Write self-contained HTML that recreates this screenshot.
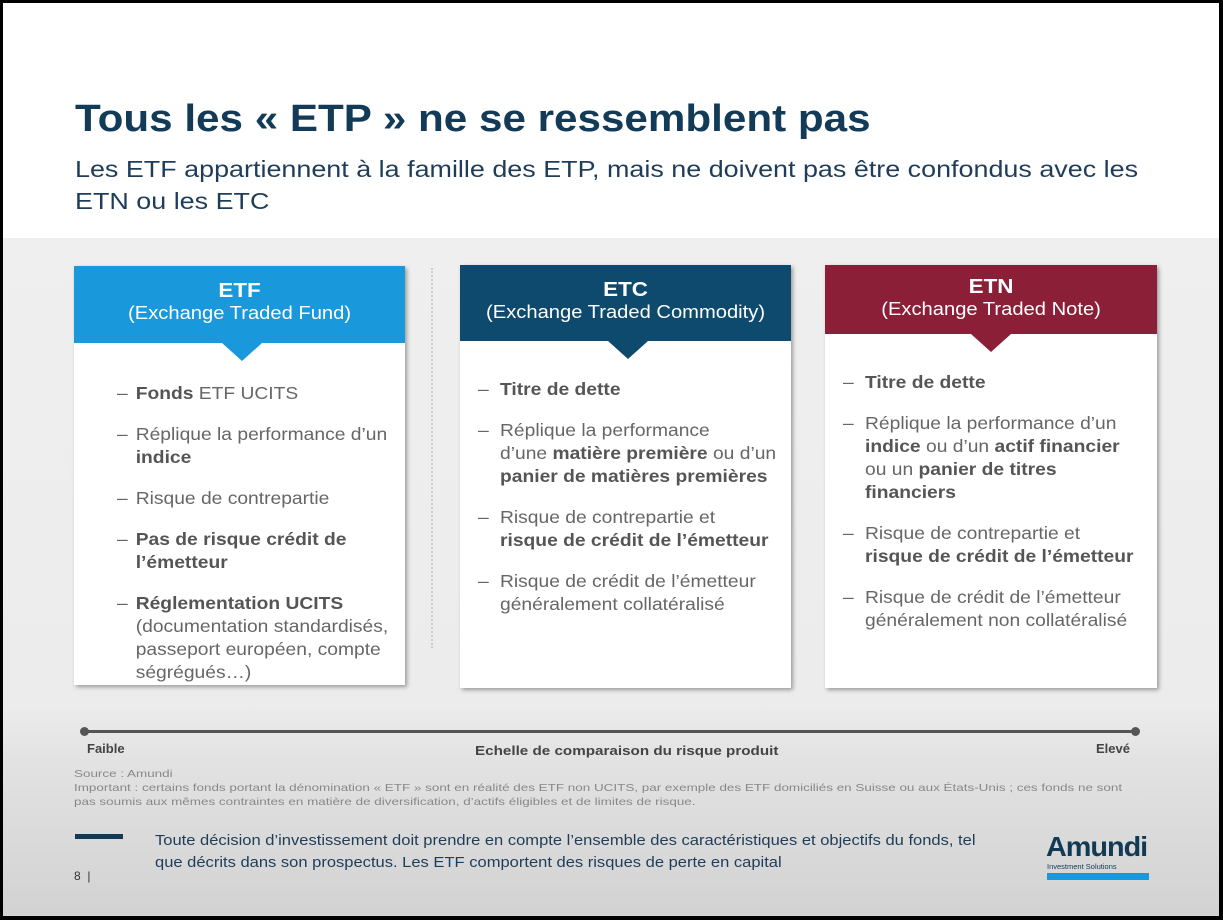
<!DOCTYPE html>
<html><head><meta charset="utf-8"><style>
*{margin:0;padding:0;box-sizing:border-box}
body{width:1223px;height:920px;background:#000;font-family:"Liberation Sans",sans-serif;overflow:hidden;position:relative}
#slide{position:absolute;left:3px;top:3px;width:1216px;height:913px;background:linear-gradient(#fff 0,#fff 235px,#efefef 235px,#ececec 700px,#e2e2e2 760px,#d2d2d2 913px)}
.a{position:absolute;transform-origin:left top}
h1{position:absolute;left:72px;top:95px;font-size:38px;color:#133a56;font-weight:bold;transform:scaleX(1.11);transform-origin:left top;white-space:nowrap}
.sub{left:72px;top:150px;font-size:23px;color:#1f3d58;line-height:32px;white-space:nowrap;transform:scaleX(1.17)}
.card{position:absolute;background:#fff;box-shadow:2px 2px 4px rgba(0,0,0,.35)}
.hd{position:absolute;left:0;top:0;width:100%;color:#fff;text-align:center;font-size:18px;line-height:22px}
.hd span{display:inline-block;transform:scaleX(1.12)}
.hd b{font-size:20px;display:block}
.tri{position:absolute;width:0;height:0;border-left:20px solid transparent;border-right:20px solid transparent}
ul{position:absolute;list-style:none;color:#666;font-size:17.5px;line-height:23px;white-space:nowrap;transform:scaleX(1.1);transform-origin:left top}
li{margin-bottom:18px;padding-left:20px;position:relative}
li:before{content:"–";position:absolute;left:0}
li b{color:#555}
</style></head><body>
<div id="slide">
<h1>Tous les « ETP » ne se ressemblent pas</h1>
<div class="a sub">Les ETF appartiennent à la famille des ETP, mais ne doivent pas être confondus avec les<br>ETN ou les ETC</div>
<div class="a" style="left:428px;top:265px;height:380px;border-left:2px dotted #ccc"></div>

<div class="card" style="left:71px;top:263px;width:331px;height:419px">
<div class="hd" style="background:#1a98dc;height:77px;padding-top:14px"><span><b>ETF</b>(Exchange Traded Fund)</span></div>
<div class="tri" style="left:148px;top:77px;border-top:18px solid #1a98dc"></div>
<ul style="left:43px;top:116px">
<li style="padding-left:17px"><b>Fonds</b> ETF UCITS</li>
<li style="padding-left:17px">Réplique la performance d’un<br><b>indice</b></li>
<li style="padding-left:17px">Risque de contrepartie</li>
<li style="padding-left:17px"><b>Pas de risque crédit de<br>l’émetteur</b></li>
<li style="padding-left:17px"><b>Réglementation UCITS</b><br>(documentation standardisés,<br>passeport européen, compte<br>ségrégués…)</li>
</ul></div>

<div class="card" style="left:457px;top:262px;width:331px;height:423px">
<div class="hd" style="background:#0d4a6e;height:76px;padding-top:14px"><span><b>ETC</b>(Exchange Traded Commodity)</span></div>
<div class="tri" style="left:148px;top:76px;border-top:18px solid #0d4a6e"></div>
<ul style="left:18px;top:113px">
<li><b>Titre de dette</b></li>
<li>Réplique la performance<br>d’une <b>matière première</b> ou d’un<br><b>panier de matières premières</b></li>
<li>Risque de contrepartie et<br><b>risque de crédit de l’émetteur</b></li>
<li>Risque de crédit de l’émetteur<br>généralement collatéralisé</li>
</ul></div>

<div class="card" style="left:822px;top:262px;width:332px;height:423px">
<div class="hd" style="background:#8b1f37;height:69px;padding-top:11px"><span><b>ETN</b>(Exchange Traded Note)</span></div>
<div class="tri" style="left:146px;top:69px;border-top:18px solid #8b1f37"></div>
<ul style="left:18px;top:106px">
<li><b>Titre de dette</b></li>
<li>Réplique la performance d’un<br><b>indice</b> ou d’un <b>actif financier</b><br>ou un <b>panier de titres<br>financiers</b></li>
<li>Risque de contrepartie et<br><b>risque de crédit de l’émetteur</b></li>
<li>Risque de crédit de l’émetteur<br>généralement non collatéralisé</li>
</ul></div>

<div class="a" style="left:81px;top:727px;width:1052px;height:3px;background:#555"></div>
<div class="a" style="left:77px;top:724px;width:9px;height:9px;border-radius:50%;background:#555"></div>
<div class="a" style="left:1128px;top:724px;width:9px;height:9px;border-radius:50%;background:#555"></div>
<div class="a" style="left:84px;top:738px;font-size:13px;font-weight:bold;color:#444">Faible</div>
<div class="a" style="left:472px;top:740px;font-size:13px;font-weight:bold;color:#444;transform:scaleX(1.17)">Echelle de comparaison du risque produit</div>
<div class="a" style="left:1093px;top:738px;font-size:13px;font-weight:bold;color:#444">Elevé</div>
<div class="a" style="left:71px;top:764px;font-size:10.5px;color:#888;line-height:14px;white-space:nowrap;transform:scaleX(1.28)">Source : Amundi<br>Important : certains fonds portant la dénomination « ETF » sont en réalité des ETF non UCITS, par exemple des ETF domiciliés en Suisse ou aux États-Unis ; ces fonds ne sont<br>pas soumis aux mêmes contraintes en matière de diversification, d’actifs éligibles et de limites de risque.</div>
<div class="a" style="left:72px;top:831px;width:48px;height:5px;background:#123a55"></div>
<div class="a" style="left:152px;top:827px;font-size:14.5px;color:#1f3d58;line-height:22px;white-space:nowrap;transform:scaleX(1.14)">Toute décision d’investissement doit prendre en compte l’ensemble des caractéristiques et objectifs du fonds, tel<br>que décrits dans son prospectus. Les ETF comportent des risques de perte en capital</div>
<div class="a" style="left:71px;top:866px;font-size:12px;color:#333">8 &nbsp;|</div>
<div class="a" style="left:1043px;top:828px;font-size:28px;font-weight:bold;color:#123a55;letter-spacing:-1px;transform:scaleX(1.03)">Amundi</div>
<div class="a" style="left:1044px;top:859px;font-size:7.5px;color:#123a55">Investment Solutions</div>
<div class="a" style="left:1044px;top:870px;width:102px;height:7px;background:#1a98dc"></div>
</div>
</body></html>
